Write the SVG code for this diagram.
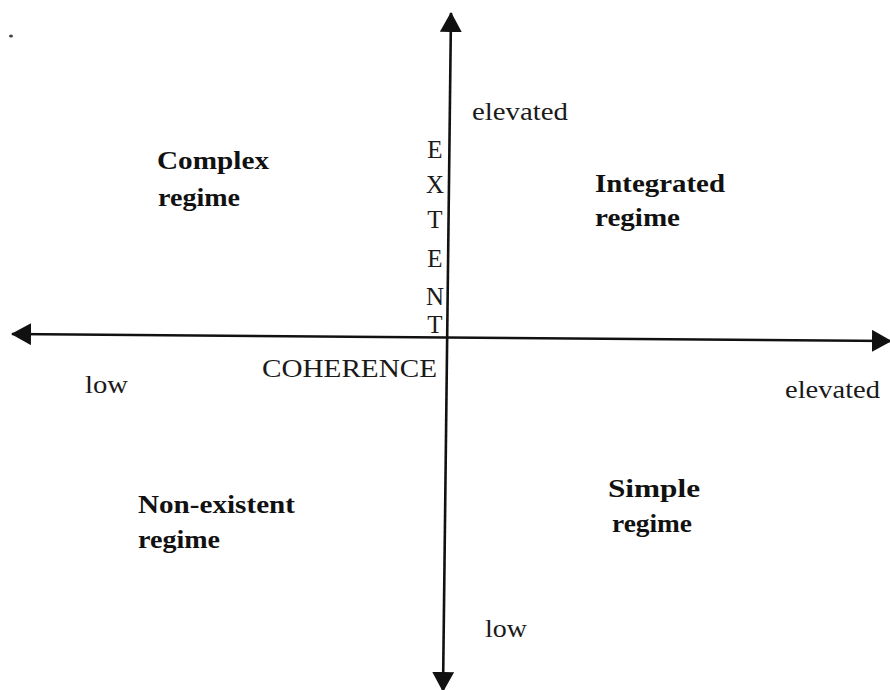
<svg xmlns="http://www.w3.org/2000/svg" width="890" height="690" viewBox="0 0 890 690">
<style>
.t{font-family:"Liberation Serif","Times New Roman",serif;font-size:25px;fill:#1a1a1a}
.b{font-family:"Liberation Serif","Times New Roman",serif;font-size:25px;font-weight:bold;fill:#111}
.ax{stroke:#111;stroke-width:2.6;fill:none}
</style>
<defs>
<marker id="ah" viewBox="0 0 20 22" refX="19" refY="11" markerWidth="20" markerHeight="22" markerUnits="userSpaceOnUse" orient="auto-start-reverse">
<path d="M0,0 L20,11 L0,22 z" fill="#111"/>
</marker>
</defs>
<rect width="890" height="690" fill="#fff"/>
<ellipse cx="11" cy="36" rx="2" ry="1.5" fill="#444"/>
<g id="connectors">
<line class="ax" x1="443" y1="691" x2="451" y2="13" marker-start="url(#ah)" marker-end="url(#ah)"/>
<line class="ax" x1="12" y1="334" x2="891" y2="341" marker-start="url(#ah)" marker-end="url(#ah)"/>
</g>
<g id="extent-axis-label">
<text class="t" x="435" y="158" text-anchor="middle" font-size="26">E</text>
<text class="t" x="435" y="193" text-anchor="middle" font-size="26">X</text>
<text class="t" x="435" y="228" text-anchor="middle" font-size="26">T</text>
<text class="t" x="435" y="267" text-anchor="middle" font-size="26">E</text>
<text class="t" x="435" y="305" text-anchor="middle" font-size="26">N</text>
<text class="t" x="435" y="333" text-anchor="middle" font-size="26">T</text>
</g>
<g id="coherence-axis-label">
<text class="t" x="262" y="377" font-size="26" textLength="175" lengthAdjust="spacingAndGlyphs">COHERENCE</text>
</g>
<g id="extent-elevated"><text class="t" x="472" y="120" textLength="96" lengthAdjust="spacingAndGlyphs">elevated</text></g>
<g id="extent-low"><text class="t" x="485" y="637" textLength="42" lengthAdjust="spacingAndGlyphs">low</text></g>
<g id="coherence-low"><text class="t" x="85" y="393" textLength="43" lengthAdjust="spacingAndGlyphs">low</text></g>
<g id="coherence-elevated"><text class="t" x="785" y="398" textLength="95" lengthAdjust="spacingAndGlyphs">elevated</text></g>
<g id="complex-regime">
<text class="b" x="157" y="169" textLength="112" lengthAdjust="spacingAndGlyphs">Complex</text>
<text class="b" x="158" y="206" textLength="82" lengthAdjust="spacingAndGlyphs">regime</text>
</g>
<g id="integrated-regime">
<text class="b" x="595" y="192" textLength="130" lengthAdjust="spacingAndGlyphs">Integrated</text>
<text class="b" x="595" y="226" textLength="85" lengthAdjust="spacingAndGlyphs">regime</text>
</g>
<g id="non-existent-regime">
<text class="b" x="138" y="513" textLength="157" lengthAdjust="spacingAndGlyphs">Non-existent</text>
<text class="b" x="138" y="548" textLength="82" lengthAdjust="spacingAndGlyphs">regime</text>
</g>
<g id="simple-regime">
<text class="b" x="608" y="497" textLength="92" lengthAdjust="spacingAndGlyphs">Simple</text>
<text class="b" x="612" y="532" textLength="80" lengthAdjust="spacingAndGlyphs">regime</text>
</g>
</svg>
